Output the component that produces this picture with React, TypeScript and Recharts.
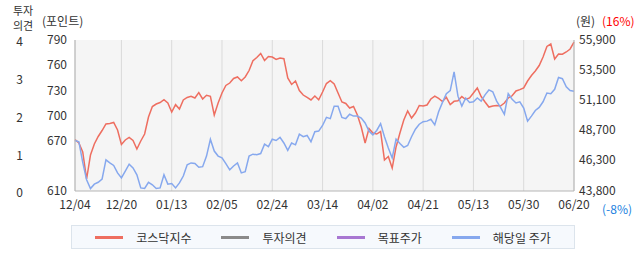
import { LineChart, Line, XAxis, YAxis, CartesianGrid } from "recharts";

const FONT = '"Noto Sans CJK KR", "Noto Sans", sans-serif';

// trading-day index of each x-axis label
const dateTickDays = [0, 12, 25, 38, 51, 64, 77, 90, 103, 116, 129];
const dateLabels = ["12/04", "12/20", "01/13", "02/05", "02/24", "03/14", "04/02", "04/21", "05/13", "05/30", "06/20"];

// 코스닥지수 (points), one value per trading day
const kosdaq = [
  671.2, 667.2, 656.5, 624.3, 652.9, 666.0, 675.0, 682.1, 689.9, 690.5,
  691.7, 682.7, 665.4, 670.8, 673.8, 670.2, 660.1, 669.6, 677.9, 698.2,
  710.7, 713.7, 715.5, 718.8, 714.9, 704.2, 712.9, 707.7, 718.5, 721.5,
  722.9, 720.9, 727.4, 719.7, 724.1, 722.9, 700.6, 714.9, 726.8, 735.8,
  738.7, 744.1, 745.9, 741.5, 745.9, 753.6, 765.3, 769.1, 773.9, 765.6,
  770.3, 769.7, 766.8, 768.5, 767.7, 744.7, 737.0, 741.1, 729.8, 724.4,
  721.5, 718.5, 723.2, 718.8, 728.0, 738.1, 741.5, 737.5, 726.8, 716.1,
  714.3, 708.9, 710.7, 700.6, 686.3, 667.2, 684.5, 679.1, 677.9, 680.9,
  647.0, 651.1, 637.4, 662.5, 679.1, 694.6, 705.4, 697.0, 703.0, 711.9,
  711.3, 712.5, 719.7, 723.2, 720.3, 716.7, 721.7, 713.1, 716.9, 717.5,
  722.6, 719.1, 720.9, 726.8, 732.8, 722.6, 716.1, 710.1, 711.3, 711.9,
  711.3, 714.9, 720.9, 723.5, 729.2, 730.8, 732.8, 741.1, 747.7, 753.0,
  759.6, 769.7, 782.3, 785.2, 767.3, 773.3, 773.0, 775.7, 779.3, 787.6,
];

// 해당일 주가 (원), one value per trading day
const price = [
  47850, 47750, 46100, 44700, 44000, 44350, 44500, 44750, 46300, 46050,
  45850, 45250, 44850, 45400, 45950, 45650, 45100, 44050, 44000, 44500,
  44300, 44000, 44050, 45100, 44350, 44400, 44050, 44450, 45000, 45900,
  46050, 46000, 45700, 45750, 46600, 47950, 47000, 46600, 46450, 46000,
  45500, 45800, 46050, 45250, 45350, 46600, 46750, 46700, 46800, 47550,
  47350, 47950, 47850, 48100, 47650, 47050, 47650, 47500, 48350, 48150,
  48250, 47750, 48550, 48600, 49050, 49700, 49600, 50600, 50600, 49700,
  49600, 49950, 49800, 49800, 49650, 49250, 48600, 48300, 48650, 49200,
  48150, 47250, 46450, 47950, 47600, 47300, 47450, 48150, 48750, 49150,
  49350, 49400, 49550, 49100, 50150, 50900, 51600, 51850, 53350, 51400,
  50600, 51250, 50900, 50950, 51250, 51000, 51500, 51900, 51750, 51000,
  50500, 49950, 51600, 51150, 50850, 50950, 50450, 49400, 49800, 50250,
  50500, 50950, 51650, 51600, 51950, 52900, 52800, 52150, 51850, 51800,
];

const opinionTicks = [0, 1, 2, 3, 4];
const kosdaqTicks = [610, 670, 700, 730, 760, 790];
const priceTicks = [43800, 46300, 48700, 51100, 53500, 55900];

const legendItems = [
  { name: "코스닥지수", color: "#ee6e60" },
  { name: "투자의견", color: "#8a8a8a" },
  { name: "목표주가", color: "#a877d2" },
  { name: "해당일 주가", color: "#86a8ee" },
];

// 투자의견 has no entries in this period
const data = kosdaq.map((v, i) => ({ day: i, kosdaq: v, price: price[i], opinion: null }));

const tickStyle = { fill: "#333", fontSize: 12 };
const border = "#b5b5b5";

function label(text: string, left: number, top: number, color = "#333") {
  return (
    <div style={{ position: "absolute", left, top, fontSize: 12, lineHeight: "13px", color, whiteSpace: "nowrap" }}>
      {text}
    </div>
  );
}

export default function App() {
  return (
    <div style={{ position: "absolute", left: 0, top: 0, width: 642, height: 268, background: "#fff", fontFamily: FONT }}>
      <LineChart width={642} height={268} data={data} margin={{ top: 40, right: 0, bottom: 47, left: 0 }} style={{ fontFamily: FONT }}>
        <CartesianGrid horizontal={false} stroke="#dadada" fill="#f5f5f5" />
        <XAxis
          dataKey="day"
          type="number"
          domain={[0, 129]}
          ticks={dateTickDays}
          tickFormatter={(d: number) => dateLabels[dateTickDays.indexOf(d)]}
          tick={tickStyle}
          tickLine={false}
          tickMargin={3}
          axisLine={{ stroke: border }}
          height={30}
        />
        <XAxis xAxisId="top" dataKey="day" type="number" domain={[0, 129]} orientation="top" height={0} tick={false} tickLine={false} axisLine={{ stroke: border }} />
        <YAxis yAxisId="kosdaq" domain={[610, 790]} ticks={kosdaqTicks} tick={tickStyle} tickLine={false} axisLine={{ stroke: border }} width={44} />
        <YAxis
          yAxisId="opinion"
          type="number"
          domain={[0, 4]}
          allowDataOverflow
          ticks={opinionTicks}
          interval={0}
          tick={{ ...tickStyle, dy: 2 }}
          tickLine={false}
          axisLine={false}
          width={31}
        />
        <YAxis
          yAxisId="price"
          orientation="right"
          domain={[43800, 55900]}
          ticks={priceTicks}
          tickFormatter={(v: number) => v.toLocaleString("en-US")}
          tick={tickStyle}
          tickLine={false}
          tickSize={3}
          tickMargin={2}
          axisLine={{ stroke: border }}
          width={68}
        />
        <Line yAxisId="opinion" dataKey="opinion" stroke="#8a8a8a" strokeWidth={1.5} dot={false} activeDot={false} isAnimationActive={false} />
        <Line yAxisId="kosdaq" dataKey="kosdaq" stroke="#ee6e60" strokeWidth={1.5} dot={false} activeDot={false} isAnimationActive={false} />
        <Line yAxisId="price" dataKey="price" stroke="#86a8ee" strokeWidth={1.5} dot={false} activeDot={false} isAnimationActive={false} />
      </LineChart>

      <div style={{ position: "absolute", left: 13, top: 3, fontSize: 11, lineHeight: "15px", color: "#333" }}>
        투자
        <br />
        의견
      </div>
      {label("(포인트)", 42, 14)}
      {label("(원)", 576, 14)}
      {label("(16%)", 602, 14, "#f00")}
      {label("(-8%)", 602, 202, "#1a7fe0")}

      <div
        style={{
          position: "absolute",
          left: 71,
          top: 225,
          width: 502,
          height: 22,
          border: "1px solid #dce4ec",
          background: "#f6f9fd",
          display: "flex",
          alignItems: "center",
          justifyContent: "center",
          gap: 30,
          fontSize: 12,
          color: "#333",
        }}
      >
        {legendItems.map((it) => (
          <div key={it.name} style={{ display: "flex", alignItems: "center" }}>
            <span style={{ display: "inline-block", width: 28, height: 3, background: it.color, marginRight: 13 }} />
            <span>{it.name}</span>
          </div>
        ))}
      </div>
    </div>
  );
}
